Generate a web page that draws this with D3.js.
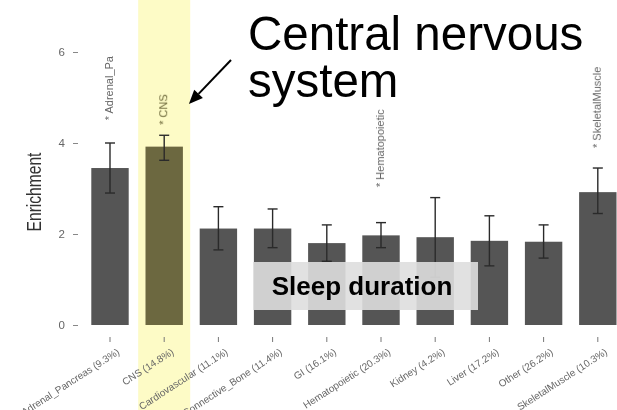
<!DOCTYPE html>
<html>
<head>
<meta charset="utf-8">
<script src="https://cdn.jsdelivr.net/npm/d3@7"></script>
<style>
  body { margin: 0; background: #fff; }
  svg { display: block; }
</style>
</head>
<body>
<svg id="chart" width="617" height="410"></svg>
<script>
// Tissue groups, share of genes in each, and enrichment estimates with 95% intervals
const tissues    = ["Adrenal_Pancreas", "CNS", "Cardiovascular", "Connective_Bone", "GI",
                    "Hematopoietic", "Kidney", "Liver", "Other", "SkeletalMuscle"];
const geneShare  = ["9.3%", "14.8%", "11.1%", "11.4%", "16.1%", "20.3%", "4.2%", "17.2%", "26.2%", "10.3%"];
const enrichment = [3.45, 3.92, 2.12, 2.12, 1.80, 1.97, 1.93, 1.85, 1.83, 2.92];
const ciLow      = [2.90, 3.62, 1.65, 1.70, 1.40, 1.70, 1.05, 1.30, 1.47, 2.45];
const ciHigh     = [4.00, 4.17, 2.60, 2.55, 2.20, 2.25, 2.80, 2.40, 2.20, 3.45];
// Significant tissues are flagged with a short name, set at the given enrichment height
const sigLabel   = ["* Adrenal_Pa", "* CNS", null, null, null, "* Hematopoietic", null, null, null, "* SkeletalMuscle"];
const sigLabelAt = [4.50, 4.40, null, null, null, 3.03, null, null, null, 3.89];
const yTicks     = [0, 2, 4, 6];
const highlighted = "CNS";
const calloutLines = ["Central nervous", "system"];
const traitName = "Sleep duration";

const svg = d3.select("#chart");

const x = d3.scaleBand()
  .domain(tissues)
  .range([82.9, 624.9])
  .paddingInner(0.31)
  .paddingOuter(0.155);

const y = d3.scaleLinear().domain([0, 6]).range([325, 52]);

// Highlight band behind the CNS column
svg.append("rect")
  .attr("x", x(highlighted) + x.bandwidth() / 2 - x.step() * 0.48)
  .attr("y", 0)
  .attr("width", x.step() * 0.96)
  .attr("height", 410)
  .attr("fill", "#fdfbc6");

const defs = svg.append("defs");
defs.append("filter").attr("id", "soft")
  .attr("x", "-5%").attr("y", "-5%").attr("width", "110%").attr("height", "110%")
  .append("feGaussianBlur").attr("stdDeviation", 0.75);

const plot = svg.append("g").attr("filter", "url(#soft)");

// Y axis: ticks and labels only, no domain line
const yAxis = d3.axisLeft(y).tickValues(yTicks).tickFormat(d3.format("d")).tickSize(5).tickPadding(8);
const gy = plot.append("g").attr("transform", "translate(78,0)").call(yAxis);
gy.select(".domain").remove();
gy.selectAll(".tick line").attr("stroke", "#888").attr("stroke-width", 1);
gy.selectAll(".tick text")
  .attr("fill", "#666")
  .style("font-family", "Liberation Sans, Arial, sans-serif")
  .style("font-size", "11.5px");

// Condensed axis title
plot.append("text")
  .attr("transform", "translate(41,192) rotate(-90) scale(0.78,1)")
  .attr("text-anchor", "middle")
  .attr("fill", "#333")
  .style("font-family", "Liberation Sans, Arial, sans-serif")
  .style("font-size", "20px")
  .text("Enrichment");

// X axis: small ticks under each bar and slanted category labels
const xAxis = d3.axisBottom(x).tickSize(5).tickPadding(3)
  .tickFormat((d, i) => `${d} (${geneShare[i]})`);
const gx = plot.append("g").attr("transform", "translate(0,337)").call(xAxis);
gx.select(".domain").remove();
gx.selectAll(".tick line").attr("stroke", "#777");
gx.selectAll(".tick text")
  .attr("fill", "#666")
  .attr("text-anchor", "end")
  .attr("dy", "0.35em")
  .attr("transform", "translate(4,7) rotate(-33)")
  .style("font-family", "Liberation Sans, Arial, sans-serif")
  .style("font-size", "10px");

// Bars
plot.append("g").selectAll("rect")
  .data(tissues)
  .join("rect")
  .attr("x", d => x(d))
  .attr("width", x.bandwidth())
  .attr("y", (d, i) => y(enrichment[i]))
  .attr("height", (d, i) => y(0) - y(enrichment[i]))
  .attr("fill", d => d === highlighted ? "#6c6740" : "#555555");

// Error bars
const eb = plot.append("g").attr("stroke", "#2a2a2a").attr("stroke-width", 1.4);
tissues.forEach((t, i) => {
  const cx = x(t) + x.bandwidth() / 2;
  eb.append("line").attr("x1", cx).attr("x2", cx).attr("y1", y(ciLow[i])).attr("y2", y(ciHigh[i]));
  eb.append("line").attr("x1", cx - 5).attr("x2", cx + 5).attr("y1", y(ciHigh[i])).attr("y2", y(ciHigh[i]));
  eb.append("line").attr("x1", cx - 5).attr("x2", cx + 5).attr("y1", y(ciLow[i])).attr("y2", y(ciLow[i]));
});

// Significance labels, written upward above the bars
plot.append("g").selectAll("text")
  .data(tissues.map((t, i) => ({ t, label: sigLabel[i], at: sigLabelAt[i] })).filter(d => d.label))
  .join("text")
  .attr("transform", d => `translate(${x(d.t) + x.bandwidth() / 2 + 3},${y(d.at)}) rotate(-90)`)
  .attr("text-anchor", "start")
  .attr("fill", d => d.t === highlighted ? "#6e6a3c" : "#666")
  .style("font-family", "Liberation Sans, Arial, sans-serif")
  .style("font-size", "11px")
  .text(d => d.label);

// Callout pointing at the CNS column
const callout = svg.append("g");
calloutLines.forEach((line, i) => {
  callout.append("text")
    .attr("x", 248)
    .attr("y", 50 + i * 47)
    .attr("fill", "#000")
    .style("font-family", "Liberation Sans, Arial, sans-serif")
    .style("font-size", "47.5px")
    .text(line);
});

const tipX = x(highlighted) + x.bandwidth() + 6, tipY = 104;
const tailX = 231, tailY = 60;
const ang = Math.atan2(tipY - tailY, tipX - tailX);
const headLen = 14, headHalf = 6;
const bx = tipX - headLen * Math.cos(ang), by = tipY - headLen * Math.sin(ang);
callout.append("line")
  .attr("x1", tailX).attr("y1", tailY).attr("x2", bx).attr("y2", by)
  .attr("stroke", "#000").attr("stroke-width", 2);
callout.append("path")
  .attr("d", d3.line()([
    [tipX, tipY],
    [bx + headHalf * Math.sin(ang), by - headHalf * Math.cos(ang)],
    [bx - headHalf * Math.sin(ang), by + headHalf * Math.cos(ang)]
  ]) + "Z")
  .attr("fill", "#000");

// Trait name box
const box = svg.append("g");
box.append("rect")
  .attr("x", 253).attr("y", 262).attr("width", 225).attr("height", 48)
  .attr("fill", "#dedede").attr("fill-opacity", 0.9);
box.append("text")
  .attr("x", 362).attr("y", 295)
  .attr("text-anchor", "middle")
  .attr("fill", "#000")
  .style("font-family", "Liberation Sans, Arial, sans-serif")
  .style("font-weight", "bold")
  .style("font-size", "26px")
  .text(traitName);
</script>
</body>
</html>
